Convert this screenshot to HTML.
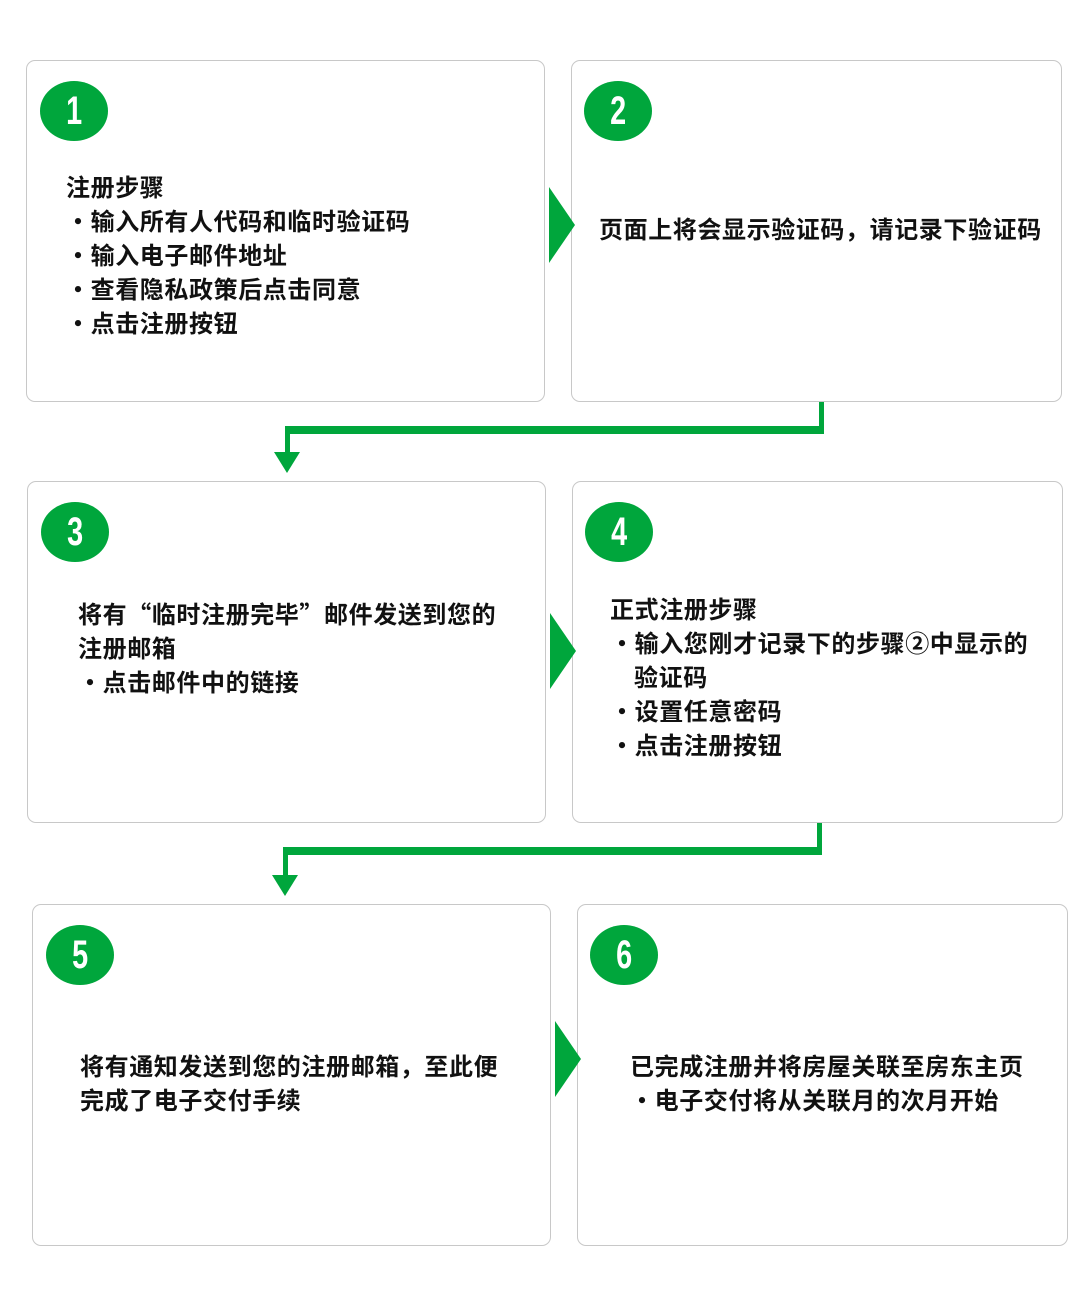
<!DOCTYPE html>
<html><head><meta charset="utf-8"><style>
body{margin:0;width:1068px;height:1305px;background:#fff;position:relative;overflow:hidden;font-family:"Liberation Sans","Noto Sans CJK SC",sans-serif;}
.box{position:absolute;border:1px solid #c8c8c8;border-radius:9px;box-sizing:border-box;background:#fff;}
.c{position:absolute;width:68px;height:60px;border-radius:50%;background:#00a63c;color:#fff;font-weight:bold;font-size:40px;line-height:60px;text-align:center;}
.c span{display:inline-block;transform:scaleX(0.72);}
.t{position:absolute;font-size:24px;font-weight:bold;line-height:34px;color:#111;white-space:nowrap;letter-spacing:0.6px;}
.q{font-family:"Noto Sans CJK SC",sans-serif;}
svg{position:absolute;left:0;top:0;}
</style></head><body>
<div class="box" style="left:26px;top:60px;width:519px;height:342px"></div>
<div class="box" style="left:571px;top:60px;width:491px;height:342px"></div>
<div class="box" style="left:27px;top:481px;width:519px;height:342px"></div>
<div class="box" style="left:572px;top:481px;width:491px;height:342px"></div>
<div class="box" style="left:32px;top:904px;width:519px;height:342px"></div>
<div class="box" style="left:577px;top:904px;width:491px;height:342px"></div>

<div class="c" style="left:40px;top:81px"><span>1</span></div>
<div class="c" style="left:584px;top:81px"><span>2</span></div>
<div class="c" style="left:41px;top:502px"><span>3</span></div>
<div class="c" style="left:585px;top:502px"><span>4</span></div>
<div class="c" style="left:46px;top:925px"><span>5</span></div>
<div class="c" style="left:590px;top:925px"><span>6</span></div>

<div class="t" style="left:66px;top:172px">注册步骤<br>・输入所有人代码和临时验证码<br>・输入电子邮件地址<br>・查看隐私政策后点击同意<br>・点击注册按钮</div>
<div class="t" style="left:599px;top:214px">页面上将会显示验证码，请记录下验证码</div>
<div class="t" style="left:78px;top:596px">将有<span class="q">“</span>临时注册完毕<span class="q">”</span>邮件发送到您的<br>注册邮箱<br>・点击邮件中的链接</div>
<div class="t" style="left:610px;top:594px">正式注册步骤<br>・输入您刚才记录下的步骤②中显示的<br><span style="margin-left:24px">验证码</span><br>・设置任意密码<br>・点击注册按钮</div>
<div class="t" style="left:80px;top:1051px">将有通知发送到您的注册邮箱，至此便<br>完成了电子交付手续</div>
<div class="t" style="left:630px;top:1051px">已完成注册并将房屋关联至房东主页<br>・电子交付将从关联月的次月开始</div>

<svg width="1068" height="1305">
<g fill="#00a63c">
<polygon points="549,187 575,225 549,263"/>
<polygon points="550,613 576,651 550,689"/>
<polygon points="555,1021 581,1059 555,1097"/>
<rect x="819" y="402" width="5" height="32"/>
<rect x="285" y="426" width="539" height="8"/>
<rect x="285" y="426" width="5" height="30"/>
<polygon points="274,452 300,452 287,473"/>
<rect x="817" y="823" width="5" height="32"/>
<rect x="283" y="847" width="539" height="8"/>
<rect x="283" y="847" width="5" height="30"/>
<polygon points="272,875 298,875 285,896"/>
</g>
</svg>
</body></html>
